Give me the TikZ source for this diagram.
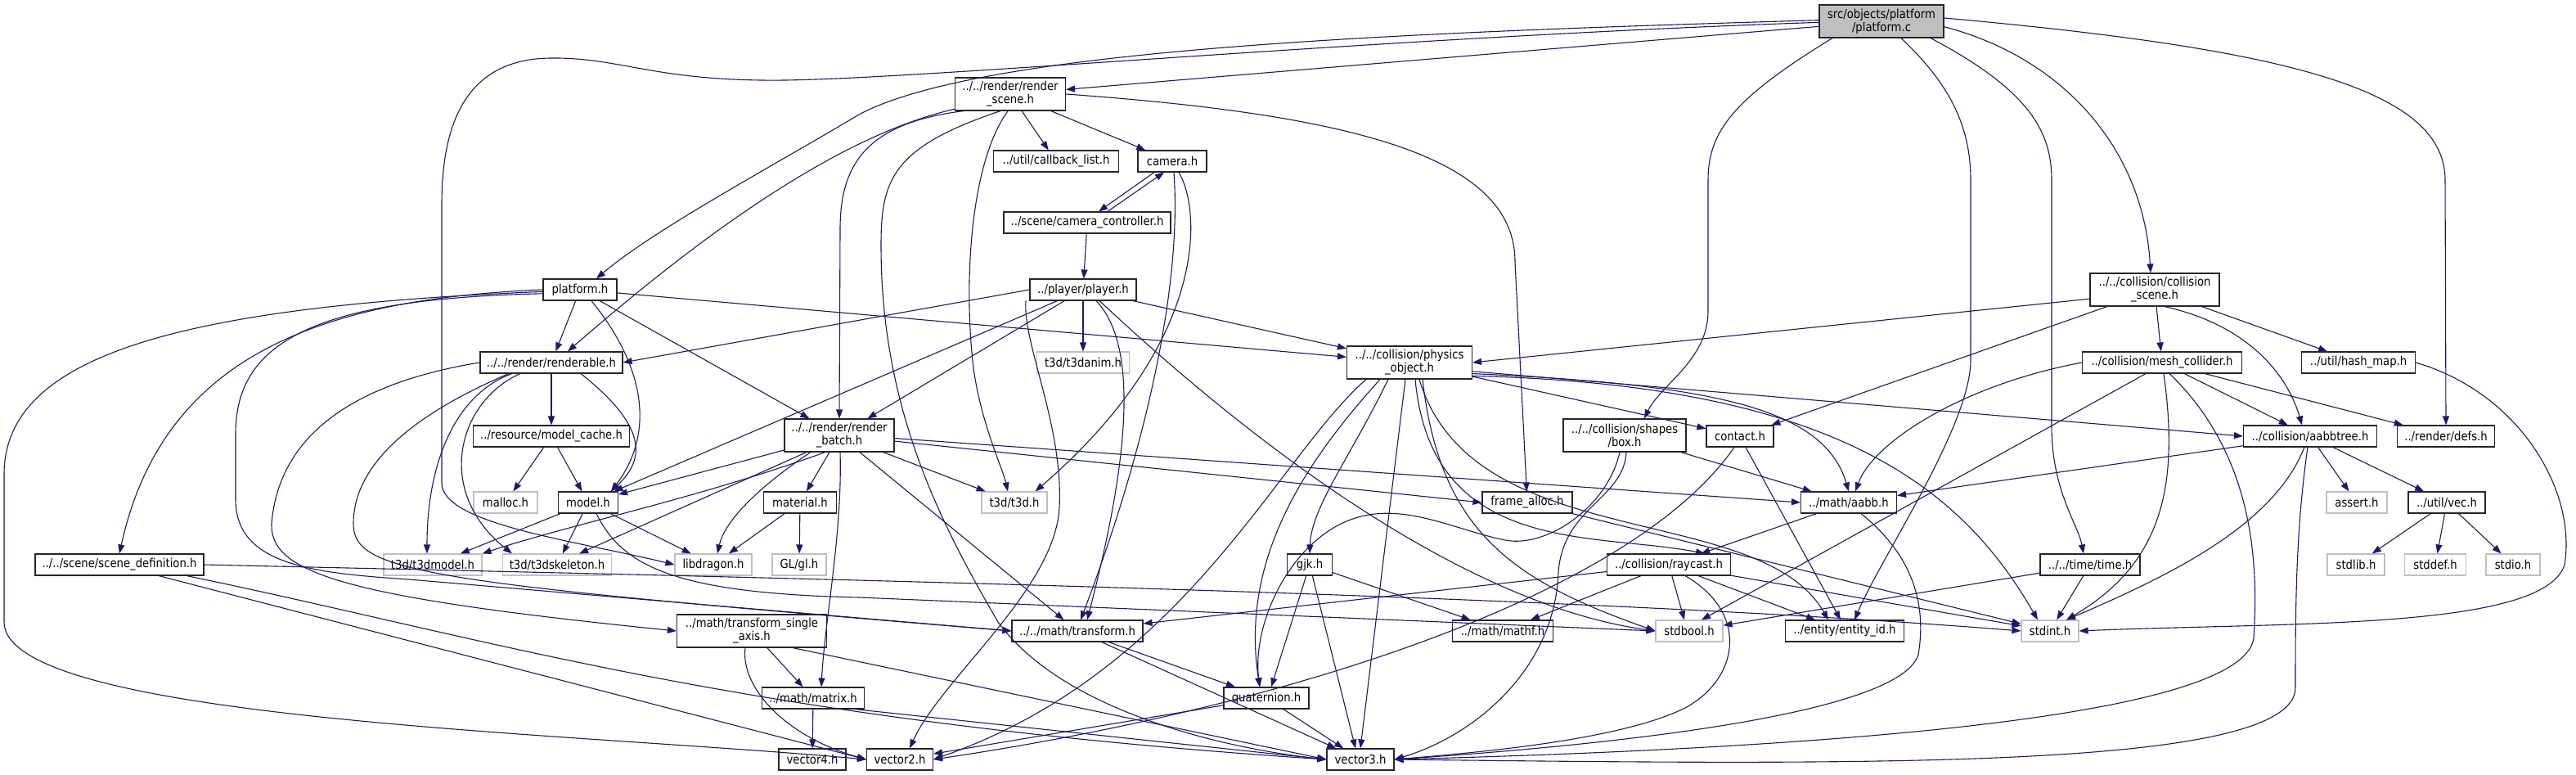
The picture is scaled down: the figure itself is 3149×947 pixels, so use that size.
\documentclass[tikz,border=0pt]{standalone}
\usepackage{fontspec}
\setmainfont{DejaVu Sans}[FakeStretch=0.88]
\usepackage{tikz}
\usetikzlibrary{arrows.meta}
\definecolor{edgeblue}{HTML}{191970}
\definecolor{sysgray}{HTML}{BFBFBF}

\begin{document}
\begin{tikzpicture}[x=1pt,y=-1pt,
	hdr/.style={draw=black!85,fill=white,line width=1.1pt,inner sep=0pt,minimum height=26pt,align=center,font=\fontsize{15}{16}\selectfont},
	sys/.style={hdr,draw=sysgray},
	root/.style={hdr,fill=sysgray},
	dep/.style={edgeblue,line width=1.1pt,-{Triangle[length=11pt,width=8pt]}}]
			\useasboundingbox (0,0) rectangle (3149,947);
			\node[root,minimum width=152pt,minimum height=40pt] (pc) at (2300,26) {src/objects/platform\\/platform.c};
			\node[hdr,minimum width=135pt,minimum height=40pt] (rs) at (1235,115) {../../render/render\\\_scene.h};
			\node[hdr,minimum width=153pt] (cb) at (1291,197) {../util/callback\_list.h};
			\node[hdr,minimum width=84pt] (cam) at (1433,197) {camera.h};
			\node[hdr,minimum width=204pt] (cc) at (1329,272) {../scene/camera\_controller.h};
			\node[hdr,minimum width=130pt] (pl) at (1324,354) {../player/player.h};
			\node[hdr,minimum width=90pt] (ph) at (709,354) {platform.h};
			\node[hdr,minimum width=158pt,minimum height=40pt] (cs) at (2634,354) {../../collision/collision\\\_scene.h};
			\node[hdr,minimum width=174pt] (rend) at (674,443) {../../render/renderable.h};
			\node[sys,minimum width=113pt] (anim) at (1324,443) {t3d/t3danim.h};
			\node[hdr,minimum width=153pt,minimum height=40pt] (po) at (1723,443) {../../collision/physics\\\_object.h};
			\node[hdr,minimum width=195pt] (mesh) at (2643,443) {../collision/mesh\_collider.h};
			\node[hdr,minimum width=139pt] (hash) at (2883,443) {../util/hash\_map.h};
			\node[hdr,minimum width=191pt] (mc) at (674,533) {../resource/model\_cache.h};
			\node[hdr,minimum width=134pt,minimum height=40pt] (rb) at (1026,532) {../../render/render\\\_batch.h};
			\node[hdr,minimum width=150pt,minimum height=40pt] (box) at (1986,532) {../../collision/shapes\\/box.h};
			\node[hdr,minimum width=82pt] (contact) at (2127,533) {contact.h};
			\node[hdr,minimum width=163pt] (tree) at (2824,533) {../collision/aabbtree.h};
			\node[hdr,minimum width=119pt] (defs) at (2990,533) {../render/defs.h};
			\node[sys,minimum width=78pt] (malloc) at (618,614) {malloc.h};
			\node[hdr,minimum width=73pt] (model) at (719,614) {model.h};
			\node[hdr,minimum width=89pt] (mat) at (978,614) {material.h};
			\node[sys,minimum width=80pt] (t3d) at (1240,614) {t3d/t3d.h};
			\node[hdr,minimum width=110pt] (fa) at (1867,614) {frame\_alloc.h};
			\node[hdr,minimum width=117pt] (aabb) at (2260,614) {../math/aabb.h};
			\node[sys,minimum width=74pt] (assert) at (2881,614) {assert.h};
			\node[hdr,minimum width=94pt] (vec) at (2991,614) {../util/vec.h};
			\node[hdr,minimum width=206pt] (sd) at (146,690) {../../scene/scene\_definition.h};
			\node[sys,minimum width=120pt] (t3dmodel) at (529,690) {t3d/t3dmodel.h};
			\node[sys,minimum width=133pt] (t3dskel) at (681,690) {t3d/t3dskeleton.h};
			\node[sys,minimum width=94pt] (lib) at (872,690) {libdragon.h};
			\node[sys,minimum width=66pt] (gl) at (977,690) {GL/gl.h};
			\node[hdr,minimum width=55pt] (gjk) at (1601,690) {gjk.h};
			\node[hdr,minimum width=151pt] (ray) at (2040,690) {../collision/raycast.h};
			\node[hdr,minimum width=122pt] (time) at (2555,690) {../../time/time.h};
			\node[sys,minimum width=70pt] (stdlib) at (2880,690) {stdlib.h};
			\node[sys,minimum width=75pt] (stddef) at (2977,690) {stddef.h};
			\node[sys,minimum width=66pt] (stdio) at (3072,690) {stdio.h};
			\node[hdr,minimum width=183pt,minimum height=40pt] (tsa) at (919,771) {../math/transform\_single\\\_axis.h};
			\node[hdr,minimum width=160pt] (tr) at (1317,771) {../../math/transform.h};
			\node[hdr,minimum width=123pt] (mathf) at (1837,771) {../math/mathf.h};
			\node[sys,minimum width=82pt] (sb) at (2065,771) {stdbool.h};
			\node[hdr,minimum width=145pt] (eid) at (2255,771) {../entity/entity\_id.h};
			\node[sys,minimum width=70pt] (sint) at (2506,771) {stdint.h};
			\node[hdr,minimum width=125pt] (matrix) at (994,853) {../math/matrix.h};
			\node[hdr,minimum width=104pt] (quat) at (1548,853) {quaternion.h};
			\node[hdr,minimum width=82pt] (v4) at (993,928) {vector4.h};
			\node[hdr,minimum width=81pt] (v2) at (1100,928) {vector2.h};
			\node[hdr,minimum width=82pt] (v3) at (1663,928) {vector3.h};
			\draw[dep] (pc.179) .. controls (1700,40) and (1200,60) .. (1050,140) .. controls (950,200) and (800,280) .. ([xshift=20]ph.north);
			\draw[dep] (pc) -- (rs);
			\draw[dep] (pc.181) .. controls (1700,45) and (1150,95) .. (960,98) .. controls (800,100) and (760,70) .. (673,71) .. controls (570,72) and (540,150) .. (540,250) -- (540,590) .. controls (540,640) and (700,660) .. (lib.west);
			\draw[dep] ([xshift=-60]pc.south) .. controls (2120,120) and (2088,160) .. (2088,220) -- (2088,380) .. controls (2088,440) and (2030,470) .. ([xshift=24]box.north);
			\draw[dep] ([xshift=24]pc.south) .. controls (2380,100) and (2409,150) .. (2409,220) -- (2409,440) .. controls (2409,520) and (2300,680) .. ([xshift=12]eid.north);
			\draw[dep] ([xshift=60]pc.south) .. controls (2480,110) and (2508,160) .. (2508,220) -- (2508,520) .. controls (2508,600) and (2540,640) .. ([xshift=-8]time.north);
			\draw[dep] (pc.-5) .. controls (2520,70) and (2620,180) .. ([xshift=-5]cs.north);
			\draw[dep] (pc.3) .. controls (2800,60) and (2989,110) .. (2989,220) -- (defs.north);
			\draw[dep] (rs.195) .. controls (1050,160) and (900,250) .. ([xshift=20]rend.north);
			\draw[dep] (rs.200) .. controls (1060,150) and (1027,200) .. (1027,280) -- (rb.north);
			\draw[dep] (rs.240) .. controls (1090,180) and (1077,220) .. (1077,300) .. controls (1077,500) and (1150,640) .. (1220,760) .. controls (1300,870) and (1500,915) .. (v3.west);
			\draw[dep] (rs.262) .. controls (1185,200) and (1178,350) .. (1190,450) .. controls (1200,520) and (1225,570) .. ([xshift=-8]t3d.north);
			\draw[dep] (rs) -- (cb);
			\draw[dep] (rs) -- (cam);
			\draw[dep] (rs.east) .. controls (1650,140) and (1852,190) .. (1852,320) -- (fa);
			\draw[dep] ([xshift=-22]cam.south) -- ([xshift=14]cc.north);
			\draw[dep] ([xshift=25]cc.north) -- ([xshift=-10]cam.south);
			\draw[dep] ([xshift=8]cam.south) .. controls (1470,260) and (1475,420) .. ([xshift=-15]t3d.north east);
			\draw[dep] ([xshift=2]cam.south) .. controls (1445,350) and (1400,550) .. ([xshift=4]tr.north);
			\draw[dep] (cc) -- (pl);
			\draw[dep] (pl.west) -- (rend.east);
			\draw[dep] (pl) -- (model);
			\draw[dep] (pl) -- (rb);
			\draw[dep] ([xshift=-70]pl.south) .. controls (1250,420) and (1300,520) .. (1295,620) .. controls (1290,720) and (1150,830) .. ([xshift=12]v2.north);
			\draw[dep] (pl) -- (anim);
			\draw[dep] ([xshift=16]pl.south) .. controls (1400,430) and (1370,600) .. ([xshift=12]tr.north);
			\draw[dep] ([xshift=20]pl.south) .. controls (1550,560) and (1800,740) .. (sb.west);
			\draw[dep] (pl) -- (po);
			\draw[dep] (ph) -- (rend);
			\draw[dep] ([xshift=14]ph.south) .. controls (790,450) and (800,530) .. ([xshift=28]model.north);
			\draw[dep] (ph) -- (rb);
			\draw[dep] (ph) -- (po);
			\draw[dep] (ph.west) .. controls (400,365) and (200,430) .. (sd.north);
			\draw[dep] (ph.183) .. controls (200,375) and (5,440) .. (5,580) -- (5,760) .. controls (5,880) and (700,895) .. (v2.west);
			\draw[dep] (ph.186) .. controls (380,365) and (288,420) .. (288,530) -- (288,610) .. controls (288,690) and (380,700) .. (500,708) -- (tr.west);
			\draw[dep] (rend) -- (mc);
			\draw[dep] ([xshift=36]rend.south) .. controls (790,520) and (790,560) .. ([xshift=28]model.north);
			\draw[dep] ([xshift=-48]rend.south) .. controls (560,480) and (522,560) .. ([xshift=-7]t3dmodel.north);
			\draw[dep] ([xshift=-38]rend.south) .. controls (560,490) and (530,600) .. ([xshift=-55]t3dskel.north);
			\draw[dep] (rend.west) .. controls (420,470) and (340,540) .. (332,640) .. controls (330,700) and (420,730) .. (tsa.west);
			\draw[dep] ([xshift=-52]rend.south) .. controls (520,500) and (432,560) .. (432,640) .. controls (432,700) and (520,712) .. (tr.west);
			\draw[dep] (mc) -- (malloc);
			\draw[dep] (mc) -- (model);
			\draw[dep] (model) -- (t3dmodel);
			\draw[dep] (model) -- (t3dskel);
			\draw[dep] (model) -- (lib);
			\draw[dep] ([xshift=10]model.south) .. controls (760,690) and (820,725) .. (1050,730) -- (sb.west);
			\draw[dep] (rb) -- (model);
			\draw[dep] (rb.230) .. controls (850,610) and (700,640) .. (t3dmodel.north east);
			\draw[dep] ([xshift=-40]rb.south) -- ([xshift=27]t3dskel.north);
			\draw[dep] ([xshift=-35]rb.south) .. controls (920,600) and (885,640) .. ([xshift=5]lib.north);
			\draw[dep] (rb) -- (mat);
			\draw[dep] ([xshift=1]rb.south) .. controls (1030,650) and (1008,760) .. ([xshift=10]matrix.north);
			\draw[dep] (rb) -- (t3d);
			\draw[dep] (rb) -- (tr);
			\draw[dep] (rb.-6) -- (fa.west);
			\draw[dep] (rb.-3) -- (aabb.west);
			\draw[dep] (mat) -- (lib);
			\draw[dep] (mat) -- (gl);
			\draw[dep] (sd.east) .. controls (900,705) and (1900,725) .. (sint.west);
			\draw[dep] ([xshift=48]sd.south) -- (v2.west);
			\draw[dep] ([xshift=82]sd.south) .. controls (600,780) and (900,880) .. (v3.west);
			\draw[dep] (tsa) -- (matrix);
			\draw[dep] ([xshift=-8]tsa.south) .. controls (905,840) and (960,900) .. (v2.west);
			\draw[dep] ([xshift=50]tsa.south) -- (v3.west);
			\draw[dep] (matrix) -- (v4);
			\draw[dep] (matrix.-15) -- (v3.west);
			\draw[dep] (tr) -- (quat);
			\draw[dep] (tr) -- (v3);
			\draw[dep] (quat) -- (v2);
			\draw[dep] (quat) -- (v3);
			\draw[dep] (po) -- (contact);
			\draw[dep] (po.-8) -- (tree.west);
			\draw[dep] (po.-10) .. controls (2100,470) and (2230,500) .. (aabb.north);
			\draw[dep] (po.-12) .. controls (2250,470) and (2400,600) .. ([xshift=-15]sint.north);
			\draw[dep] ([xshift=-26]po.south) .. controls (1650,560) and (1603,620) .. (gjk.north);
			\draw[dep] ([xshift=-36]po.south) .. controls (1600,560) and (1515,680) .. ([xshift=-8]quat.north);
			\draw[dep] ([xshift=-53]po.south) .. controls (1560,560) and (1450,820) .. (v2.east);
			\draw[dep] ([xshift=-5]po.south) -- (v3.north);
			\draw[dep] ([xshift=7]po.south) .. controls (1750,680) and (1950,650) .. ([xshift=44]ray.north);
			\draw[dep] ([xshift=12]po.south) .. controls (1800,680) and (2150,610) .. ([xshift=-20]eid.north);
			\draw[dep] ([xshift=16]po.south) .. controls (1760,650) and (1850,710) .. (sb.west);
			\draw[dep] (cs.188) -- (po.east);
			\draw[dep] (cs) -- (contact);
			\draw[dep] (cs) -- (mesh);
			\draw[dep] (cs.-60) .. controls (2760,400) and (2800,470) .. ([xshift=-10]tree.north);
			\draw[dep] (cs) -- (hash);
			\draw[dep] (mesh.west) .. controls (2400,470) and (2290,540) .. ([xshift=8]aabb.north);
			\draw[dep] ([xshift=-20]mesh.south) -- ([xshift=15]sb.north);
			\draw[dep] ([xshift=2]mesh.south) .. controls (2665,600) and (2640,690) .. ([xshift=20]sint.north);
			\draw[dep] ([xshift=9]mesh.south) .. controls (2760,560) and (2760,700) .. (2755,780) .. controls (2740,880) and (2200,915) .. (v3.east);
			\draw[dep] (mesh) -- (tree);
			\draw[dep] (mesh) -- (defs);
			\draw[dep] (hash.east) .. controls (3080,480) and (3150,600) .. (3135,690) .. controls (3110,770) and (2800,760) .. (sint.east);
			\draw[dep] (tree) -- (aabb);
			\draw[dep] ([xshift=-7]tree.south) .. controls (2780,640) and (2660,700) .. ([xshift=20]sint.north);
			\draw[dep] ([xshift=-3]tree.south) .. controls (2806,650) and (2806,750) .. (2806,840) .. controls (2806,940) and (2300,935) .. (v3.east);
			\draw[dep] (tree) -- (assert);
			\draw[dep] (tree) -- (vec);
			\draw[dep] (vec) -- (stdlib);
			\draw[dep] (vec) -- (stddef);
			\draw[dep] (vec) -- (stdio);
			\draw[dep] (box) -- (aabb);
			\draw[dep] ([xshift=-6]box.south) .. controls (1965,620) and (1890,670) .. (1840,660) .. controls (1780,648) and (1720,615) .. (1660,632) .. controls (1580,655) and (1530,760) .. ([xshift=-8]quat.north);
			\draw[dep] ([xshift=2]box.south) .. controls (1985,610) and (1910,620) .. (1905,700) .. controls (1900,820) and (1800,900) .. (v3.east);
			\draw[dep] ([xshift=7]contact.south) -- ([xshift=-5]eid.north);
			\draw[dep] ([xshift=-7]contact.south) .. controls (2000,720) and (1600,860) .. (v2.east);
			\draw[dep] (gjk) -- ([xshift=6]quat.north);
			\draw[dep] (gjk) -- ([xshift=-6]v3.north);
			\draw[dep] (gjk) -- (mathf);
			\draw[dep] (aabb) -- (ray);
			\draw[dep] ([xshift=15]aabb.south) .. controls (2340,680) and (2355,740) .. (2345,800) .. controls (2320,880) and (1900,915) .. (v3.east);
			\draw[dep] (ray) -- (tr);
			\draw[dep] (ray) -- (mathf);
			\draw[dep] (ray) -- ([xshift=-6]sb.north);
			\draw[dep] (ray) -- (eid);
			\draw[dep] (ray) -- (sint);
			\draw[dep] ([xshift=20]ray.south) .. controls (2140,750) and (2125,830) .. (2060,865) .. controls (1980,905) and (1800,920) .. (v3.east);
			\draw[dep] (time) -- (sb);
			\draw[dep] (time) -- (sint);
			\draw[dep] (fa) -- (sint);
\end{tikzpicture}
\end{document}
